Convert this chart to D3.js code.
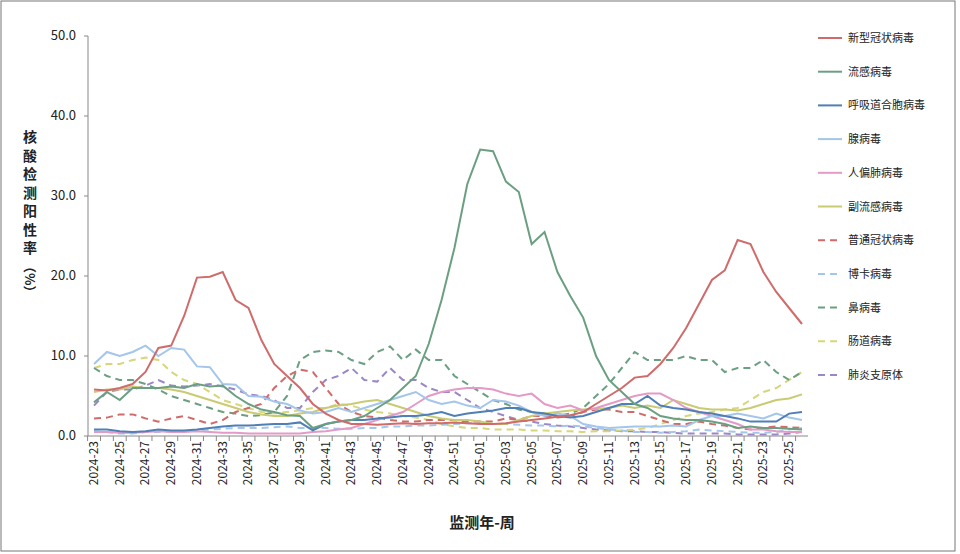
<!DOCTYPE html>
<html><head><meta charset="utf-8">
<script src="https://cdn.jsdelivr.net/npm/d3@7"></script>
<style>body{margin:0;background:#fff}text{font-family:"Noto Sans CJK SC","DejaVu Sans",sans-serif}</style>
</head><body><svg id="c" width="960" height="554"></svg>
<script>
// weeks 2024-23 .. 2025-26
var weeks = [];
for (var w = 23; w <= 52; w++) weeks.push("2024-" + w);
for (var w = 1; w <= 26; w++) weeks.push("2025-" + (w < 10 ? "0" + w : w));

var covid = [5.8,5.7,6,6.5,8,11,11.3,15,19.8,19.9,20.5,17,16,12,9,7.5,6,4,2.8,2,1.5,1.5,1.4,1.5,1.6,1.5,1.6,1.6,1.7,1.6,1.5,1.5,1.6,1.8,2,2.2,2.4,2.6,3,4,5,6,7.3,7.5,9,11,13.5,16.5,19.5,20.7,24.5,24,20.5,18,16,14];
var flu = [4.2,5.5,4.5,6,6,6,6.2,6,6.5,6.2,6.3,5,4,3.3,3,2.6,2.5,1,1.5,1.8,2,2.5,3.5,4.5,6,7.5,11.5,17,23.5,31.5,35.8,35.6,31.8,30.5,24,25.5,20.5,17.5,14.8,10,7,5.5,4,3.5,2.5,2.2,2,2,1.8,1.5,1,1.2,1,1,0.9,0.8];
var rsv = [0.8,0.8,0.6,0.5,0.6,0.8,0.7,0.7,0.8,1,1.2,1.3,1.3,1.4,1.5,1.5,1.7,0.7,1.5,1.8,2,2,2.2,2.3,2.5,2.5,2.7,3,2.5,2.8,3,3.2,3.5,3.5,3,2.8,2.5,2.3,2.5,3,3.5,4,4,5,3.8,3.5,3.3,3,2.8,2.5,2.2,1.8,1.8,1.8,2.8,3];
var adeno = [9,10.5,10,10.5,11.3,10,11,10.8,8.7,8.6,6.5,6.4,5,4.9,4.3,4,3.2,2.8,3,3.5,3,3.5,4,4.5,5,5.5,4.5,4,4.3,3.8,3.5,4.5,4.3,3.8,3,2.5,2.8,2.5,1.5,1.2,1,1.1,1.2,1.2,1.2,1.3,1.2,2,2.5,2.5,2.8,2.5,2.2,2.8,2.3,2];
var hmpv = [0.5,0.5,0.4,0.4,0.5,0.6,0.5,0.5,0.6,0.5,0.4,0.4,0.3,0.3,0.3,0.3,0.3,0.5,0.6,0.8,1,1.5,2,2.5,3,4,5,5.5,5.8,6,6,5.8,5.3,5,5.3,4,3.5,3.8,3.2,3.5,4,4.5,5,5.3,5.3,4.5,3.5,3,2.5,2,1.5,0.8,0.8,0.6,0.5,0.5];
var piv = [5.5,5.8,5.8,6.2,6,6,5.8,5.5,5,4.5,4,3.5,3,2.7,2.5,2.5,2.8,3,3.5,3.8,4,4.3,4.5,4,3.5,3,2.5,2.2,2,2,1.8,1.5,1.5,2,2.5,2.8,3,3.2,3.3,3.4,3.5,3.8,3.5,3.8,3.5,4.5,4,3.5,3.3,3.3,3.2,3.5,4,4.5,4.7,5.2];
var hcov = [2.2,2.3,2.7,2.7,2.2,1.8,2.2,2.5,2,1.5,2,3,3.5,4,6,7.5,8.3,8,6,4,3,2.5,2.3,2,1.8,1.8,2,2,2,1.8,1.8,1.8,2.2,2,2.5,2.5,2.3,2.5,3,3.3,3.3,3,3,2.5,2,1.5,1.5,1.8,1.5,1.3,1,0.8,1,1.2,1.1,1];
var boca = [0.6,0.5,0.3,0.3,0.5,0.5,0.6,0.6,0.7,0.8,0.9,1,1,1,1.1,1.2,1,1,1,0.9,0.9,1,1,1.2,1.2,1.3,1.3,1.4,1.5,1.6,1.6,1.5,1.5,1.4,1.3,1.3,1.2,1.3,1.2,1,0.8,0.7,0.5,0.5,0.4,0.5,0.6,0.8,0.7,0.6,0.5,0.4,0.4,0.5,0.8,1];
var rhino = [8.5,7.5,7,7,6.5,5.8,5,4.5,4,3.5,3,2.8,2.5,2.6,3,5,9.5,10.5,10.7,10.5,9.5,9,10.5,11.2,9.5,10.8,9.5,9.5,7.5,6.5,5.5,4.5,4,3.3,3,2.8,2.5,2.8,3.5,5,6.5,8.5,10.5,9.5,9.5,9.5,10,9.5,9.5,8,8.5,8.5,9.5,8,7,8];
var entero = [8.5,9,9,9.5,9.8,9.5,8,7,6.5,5.5,4.5,4,3.5,3,2.8,3,3.2,3.5,3.5,4,3.8,3.3,3,2.8,2.5,2.3,2,1.5,1.2,1,1,0.8,0.8,0.8,0.7,0.7,0.6,0.6,0.5,0.6,0.6,0.7,0.8,1,1.5,2,2.5,2.8,3,3.3,3.5,4.5,5.5,6,7,8];
var mp = [3.8,5.5,5.8,5.8,6.3,7,6.3,6.2,6.3,6.5,6.2,5.8,5.2,5,4.5,3.5,3.5,5.5,7,7.5,8.5,7,6.8,8.5,7,7,6,5.5,5.5,4.5,3.5,3,2.5,2,1.8,1.5,1.3,1.2,1,0.8,0.7,0.6,0.6,0.5,0.5,0.4,0.3,0.3,0.3,0.3,0.2,0.2,0.2,0.2,0.3,0.5];

var series = [
  {name:"新型冠状病毒", v:covid, c:"#d06b6b", d:null},
  {name:"流感病毒", v:flu, c:"#6b9f82", d:null},
  {name:"呼吸道合胞病毒", v:rsv, c:"#4f7fb5", d:null},
  {name:"腺病毒", v:adeno, c:"#a3c6ea", d:null},
  {name:"人偏肺病毒", v:hmpv, c:"#e49ac6", d:null},
  {name:"副流感病毒", v:piv, c:"#c9cb72", d:null},
  {name:"普通冠状病毒", v:hcov, c:"#d06b6b", d:"7,5"},
  {name:"博卡病毒", v:boca, c:"#a3c6ea", d:"7,5"},
  {name:"鼻病毒", v:rhino, c:"#6b9f82", d:"7,5"},
  {name:"肠道病毒", v:entero, c:"#d6d67a", d:"7,5"},
  {name:"肺炎支原体", v:mp, c:"#9b86c6", d:"7,5"}
];
var yTicks = [0,10,20,30,40,50];

var svg = d3.select("#c");
svg.append("rect").attr("x",1).attr("y",1).attr("width",954).attr("height",550)
  .attr("fill","none").attr("stroke","#777").attr("stroke-width",1);

var x = d3.scaleLinear().domain([0, weeks.length - 1]).range([94, 802]);
var y = d3.scaleLinear().domain([0, 50]).range([436, 36]);

var g = svg.append("g");
// y axis
g.append("line").attr("x1",88).attr("x2",88).attr("y1",36).attr("y2",436).attr("stroke","#888");
yTicks.forEach(function(t) {
  g.append("line").attr("x1",84).attr("x2",88).attr("y1",y(t)).attr("y2",y(t)).attr("stroke","#888");
  g.append("text").attr("x",76).attr("y",y(t)+4).attr("text-anchor","end")
    .attr("font-size",13).attr("fill","#222").text(t.toFixed(1));
});
// x axis
g.append("line").attr("x1",88).attr("x2",808).attr("y1",436).attr("y2",436).attr("stroke","#888");
weeks.forEach(function(wk, i) {
  var xx = x(i) - 6.4;
  g.append("line").attr("x1",xx).attr("x2",xx).attr("y1",436).attr("y2",441).attr("stroke","#888");
  if (i % 2 == 0) {
    g.append("text").attr("transform","translate(" + (x(i)+4) + ",441) rotate(-90)")
      .attr("text-anchor","end").attr("font-size",12).attr("fill","#222").text(wk);
  }
});

var line = d3.line().x(function(d, i) { return x(i); }).y(function(d) { return y(d); });
series.slice().reverse().forEach(function(s) {
  g.append("path").attr("d", line(s.v)).attr("fill","none").attr("stroke", s.c)
    .attr("stroke-width",2).attr("stroke-dasharray", s.d);
});

// legend
series.forEach(function(s, i) {
  var ly = 38 + i * 33.7;
  svg.append("line").attr("x1",818).attr("x2",842).attr("y1",ly).attr("y2",ly)
    .attr("stroke",s.c).attr("stroke-width",2).attr("stroke-dasharray", s.d);
  svg.append("text").attr("x",848).attr("y",ly+4).attr("font-size",11).attr("fill","#222").text(s.name);
});

// axis titles: vertical characters, brackets rotated
var yt = "核酸检测阳性率".split("");
yt.forEach(function(ch, i) {
  svg.append("text").attr("x",30).attr("y",142 + i*18.5).attr("text-anchor","middle")
    .attr("font-size",14).attr("font-weight","bold").attr("fill","#222").text(ch);
});
svg.append("text").attr("transform","translate(25,260) rotate(90)")
  .attr("font-size",13).attr("font-weight","bold").attr("fill","#222").text("（%）");
svg.append("text").attr("x",482).attr("y",528).attr("text-anchor","middle")
  .attr("font-size",15).attr("font-weight","bold").attr("fill","#222").text("监测年-周");
</script></body></html>
